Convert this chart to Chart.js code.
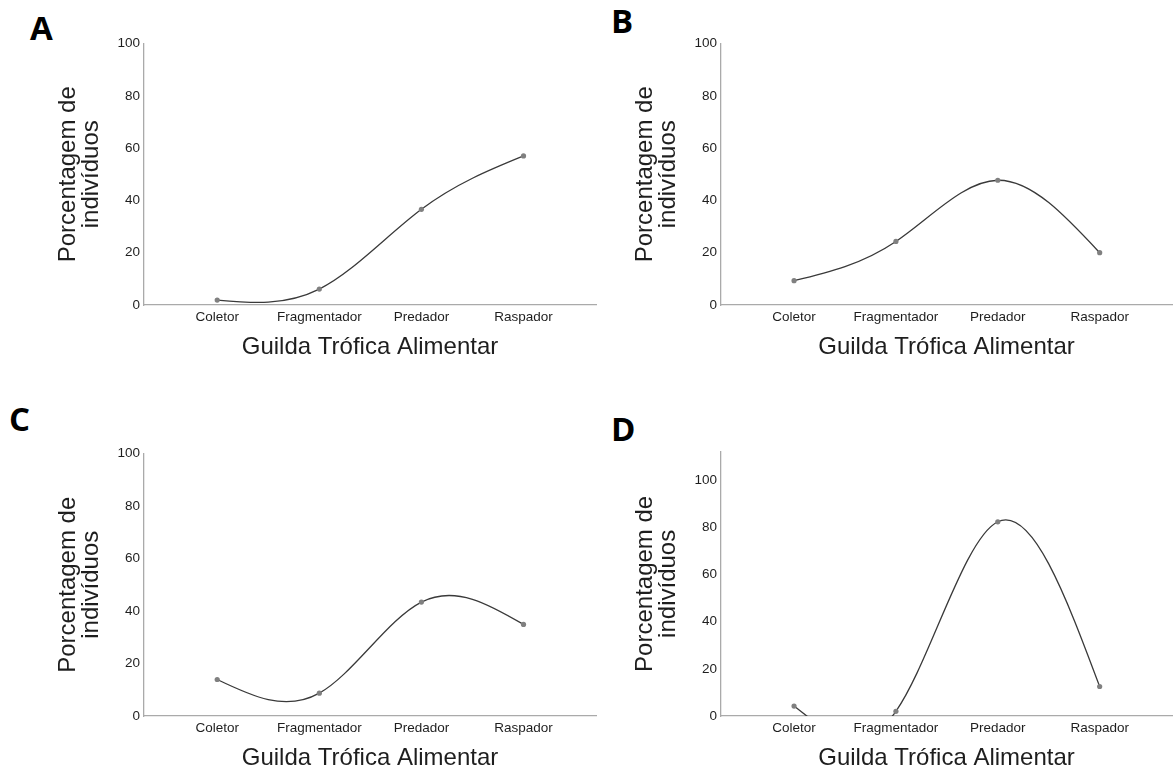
<!DOCTYPE html>
<html>
<head>
<meta charset="utf-8">
<script src="https://cdn.jsdelivr.net/npm/chart.js@4.4.0/dist/chart.umd.min.js"></script>
<style>
  html, body { margin: 0; padding: 0; background: #fff; }
  body { width: 1176px; height: 773px; position: relative; overflow: hidden; }
  canvas { position: absolute; }
  .letter {
    position: absolute;
    font-family: 'Open Sans', sans-serif;
    font-weight: 700;
    font-size: 33px;
    line-height: 1;
    color: #000;
  }
</style>
</head>
<body>
<div class="letter" style="left:30px;top:11px">A</div>
<div class="letter" style="left:611px;top:4px">B</div>
<div class="letter" style="left:9px;top:402px">C</div>
<div class="letter" style="left:611px;top:412px">D</div>

<canvas id="chartA" width="600" height="380" style="left:0;top:0"></canvas>
<canvas id="chartB" width="588" height="380" style="left:588px;top:0"></canvas>
<canvas id="chartC" width="600" height="393" style="left:0;top:380px"></canvas>
<canvas id="chartD" width="588" height="393" style="left:588px;top:380px"></canvas>

<script>
// data
const categories = ['Coletor', 'Fragmentador', 'Predador', 'Raspador'];
const valuesA = [1.9, 6.1, 36.6, 57.0];
const valuesB = [9.3, 24.3, 47.7, 20.0];
const valuesC = [13.9, 8.7, 43.4, 34.9];
const valuesD = [4.2, 2.0, 82.3, 12.5];
const yMaxA = 100, yMaxB = 100, yMaxC = 100, yMaxD = 112;
const yStep = 20;
const xTitle = 'Guilda Trófica Alimentar';
const yTitle = ['Porcentagem de', 'indivíduos'];

const textColor = '#1e1e1e';
const axisColor = '#aaaaaa';
const lineColor = '#3a3a3a';
const pointColor = '#808080';

// SPSS draws these as a natural cubic spline; set the line's bezier
// control points from the plotted points instead of chart.js's tension curve
const naturalSpline = {
  id: 'naturalSpline',
  beforeDatasetDraw(chart, args) {
    const meta = args.meta;
    const pts = meta.data;
    const n = pts.length;
    if (n < 3) return;
    const x = pts.map(p => p.x), y = pts.map(p => p.y);
    const h = [];
    for (let i = 0; i < n - 1; i++) h.push(x[i + 1] - x[i]);
    // tridiagonal system for second derivatives, M0 = Mn-1 = 0
    const M = new Array(n).fill(0);
    const a = [], b = [], c = [], d = [];
    for (let i = 1; i < n - 1; i++) {
      a.push(h[i - 1]);
      b.push(2 * (h[i - 1] + h[i]));
      c.push(h[i]);
      d.push(6 * ((y[i + 1] - y[i]) / h[i] - (y[i] - y[i - 1]) / h[i - 1]));
    }
    const m = b.length;
    for (let i = 1; i < m; i++) {
      const w = a[i] / b[i - 1];
      b[i] -= w * c[i - 1];
      d[i] -= w * d[i - 1];
    }
    const sol = new Array(m);
    sol[m - 1] = d[m - 1] / b[m - 1];
    for (let i = m - 2; i >= 0; i--) sol[i] = (d[i] - c[i] * sol[i + 1]) / b[i];
    for (let i = 0; i < m; i++) M[i + 1] = sol[i];
    for (let i = 0; i < n - 1; i++) {
      const s = (y[i + 1] - y[i]) / h[i];
      const d0 = s - h[i] * (2 * M[i] + M[i + 1]) / 6;
      const d1 = s + h[i] * (M[i] + 2 * M[i + 1]) / 6;
      pts[i].cp2x = x[i] + h[i] / 3;
      pts[i].cp2y = y[i] + d0 * h[i] / 3;
      pts[i + 1].cp1x = x[i + 1] - h[i] / 3;
      pts[i + 1].cp1y = y[i + 1] - d1 * h[i] / 3;
    }
    meta.dataset._pointsUpdated = true;
    meta.dataset._path = undefined;
  }
};

function drawPanel(id, values, yMax, box) {
  new Chart(document.getElementById(id), {
    type: 'line',
    data: {
      datasets: [{
        data: values.map((v, i) => ({ x: i + 1, y: v })),
        borderColor: lineColor,
        borderWidth: 1.3,
        tension: 0.4,
        pointRadius: 2.6,
        pointBorderWidth: 0,
        pointBackgroundColor: pointColor,
        clip: 0,
        fill: false
      }]
    },
    plugins: [naturalSpline],
    options: {
      responsive: false,
      animation: false,
      devicePixelRatio: 1,
      elements: { line: { capBezierPoints: false } },
      layout: { padding: { left: 0, top: box.top, right: box.right, bottom: box.bottom } },
      plugins: { legend: { display: false }, tooltip: { enabled: false } },
      scales: {
        x: {
          type: 'linear',
          min: 0.283,
          max: 4.71,
          grid: { display: false, drawTicks: false },
          border: { display: true, color: axisColor, width: 1.3 },
          afterBuildTicks: s => { s.ticks = categories.map((c, i) => ({ value: i + 1 })); },
          afterFit: s => { s.height = 57; },
          ticks: {
            callback: v => categories[v - 1],
            autoSkip: false,
            maxRotation: 0,
            padding: 4,
            color: textColor,
            font: { family: 'Liberation Sans', size: 13.5 }
          },
          title: {
            display: true,
            text: xTitle,
            color: textColor,
            padding: { top: 0, bottom: 0 },
            font: { family: 'Liberation Sans', size: 24, lineHeight: 1.2 }
          }
        },
        y: {
          min: 0,
          max: yMax,
          grid: { display: false, drawTicks: false },
          border: { display: true, color: axisColor, width: 1.3 },
          afterFit: s => { s.width = box.axisW; },
          ticks: {
            stepSize: yStep,
            includeBounds: false,
            padding: 4,
            color: textColor,
            font: { family: 'Liberation Sans', size: 13.5 }
          },
          title: {
            display: true,
            text: yTitle,
            color: textColor,
            padding: { top: box.axisW - 87, bottom: 0 },
            font: { family: 'Liberation Sans', size: 24, lineHeight: 0.96 }
          }
        }
      }
    }
  });
}

drawPanel('chartA', valuesA, yMaxA, { axisW: 144, top: 43.5, right: 2, bottom: 18 });
drawPanel('chartB', valuesB, yMaxB, { axisW: 133, top: 43.5, right: 0, bottom: 18 });
drawPanel('chartC', valuesC, yMaxC, { axisW: 144, top: 73.5, right: 2, bottom: 0 });
drawPanel('chartD', valuesD, yMaxD, { axisW: 133, top: 71.7, right: 0, bottom: 0 });
</script>
</body>
</html>
